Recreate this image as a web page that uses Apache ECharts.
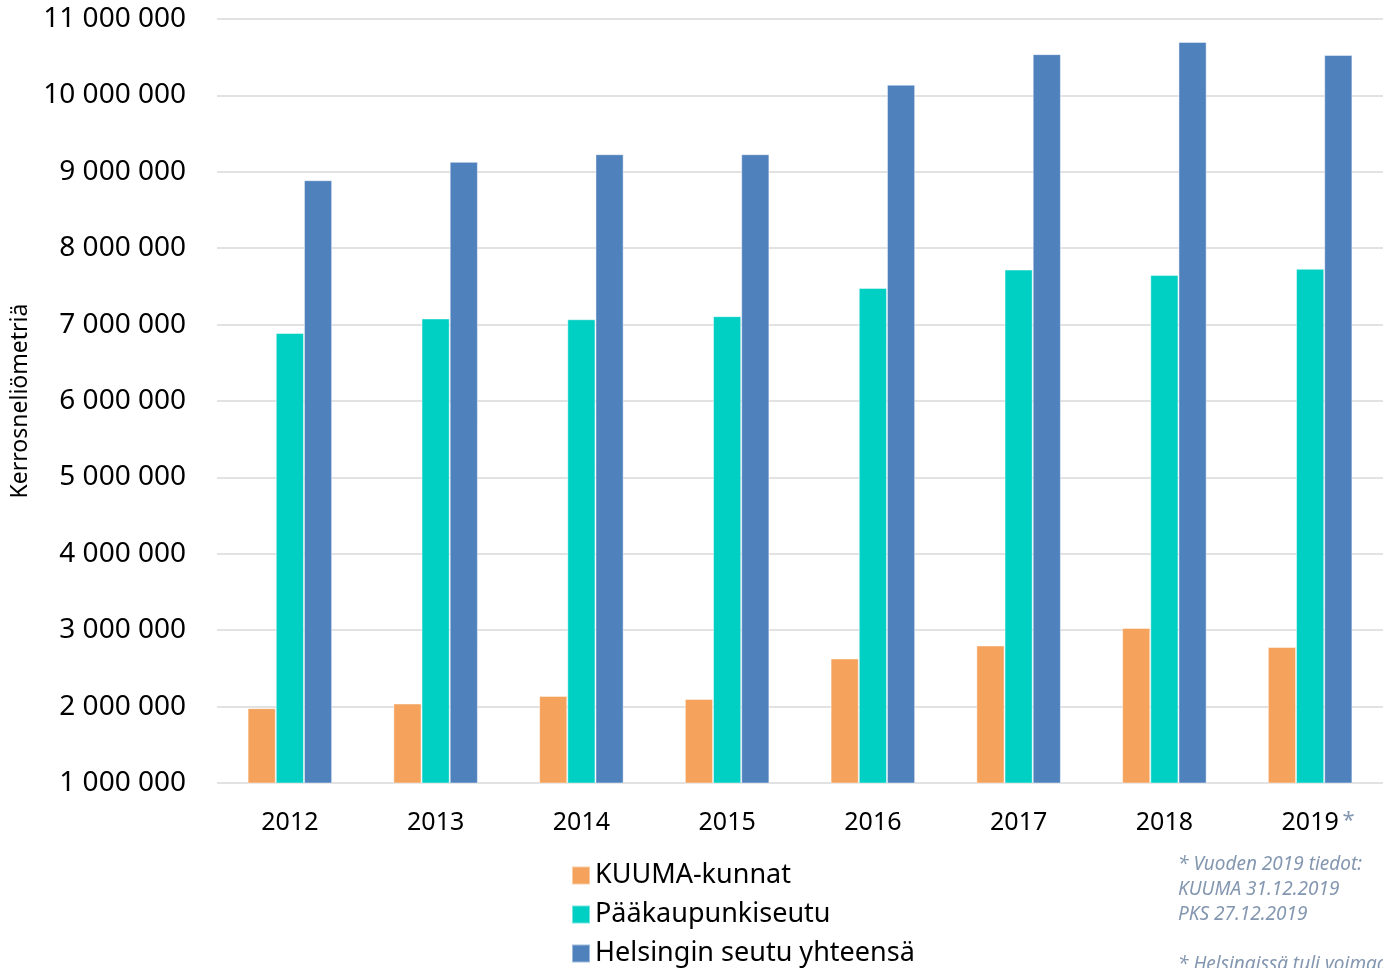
<!DOCTYPE html>
<html>
<head>
<meta charset="utf-8">
<script src="https://cdn.jsdelivr.net/npm/echarts@6/dist/echarts.min.js"></script>
<style>
  html, body { margin: 0; padding: 0; background: #fff; }
  #chart { width: 1383px; height: 968px; }
</style>
</head>
<body>
<div id="chart"></div>
<script>
// vuodet
const years = ['2012', '2013', '2014', '2015', '2016', '2017', '2018', '2019'];

// kerrosneliömetrit sarjoittain
const kuuma = [1980000, 2040000, 2140000, 2100000, 2630000, 2800000, 3030000, 2780000];
const pks = [6890000, 7080000, 7070000, 7110000, 7480000, 7720000, 7650000, 7730000];
const total = [8890000, 9130000, 9230000, 9230000, 10140000, 10540000, 10700000, 10530000];

const seriesNames = ['KUUMA-kunnat', 'Pääkaupunkiseutu', 'Helsingin seutu yhteensä'];
const colors = ['#F4A25C', '#00CFC4', '#4F81BD'];

const noteLines = [
  '* Vuoden 2019 tiedot:',
  'KUUMA 31.12.2019',
  'PKS 27.12.2019',
  '',
  '* Helsingissä tuli voimaan'
];

const font = '"Noto Sans", sans-serif';

// 1000000 -> "1 000 000"
function fmt(v) {
  return String(v).replace(/\B(?=(\d{3})+(?!\d))/g, ' ');
}

const chart = echarts.init(document.getElementById('chart'));

const option = {
  animation: false,
  textStyle: { fontFamily: font },
  grid: { left: 217, right: 0, top: 19, bottom: 185 },
  legend: {
    data: seriesNames,
    orient: 'vertical',
    left: 566,
    top: 856,
    height: 140,
    icon: 'rect',
    itemWidth: 18,
    itemHeight: 18,
    itemGap: 10,
    textStyle: { fontSize: 27, lineHeight: 29, color: '#000', fontFamily: font }
  },
  xAxis: {
    type: 'category',
    data: years,
    axisLine: { show: false },
    axisTick: { show: false },
    axisLabel: {
      interval: 0,
      fontSize: 25,
      color: '#000',
      margin: 27,
      formatter: (v) => v === '2019' ? '{p|}' + v + '{s|*}' : v,
      rich: {
        p: { width: 16 },
        s: { color: '#8497B0', fontSize: 22, width: 16, align: 'right', verticalAlign: 'top' }
      }
    }
  },
  yAxis: {
    type: 'value',
    min: 1000000,
    max: 11000000,
    interval: 1000000,
    name: 'Kerrosneliömetriä',
    nameLocation: 'middle',
    nameGap: 183,
    nameTextStyle: { fontSize: 23, color: '#000', fontFamily: font },
    axisLine: { show: false },
    axisTick: { show: false },
    axisLabel: {
      fontSize: 28,
      color: '#000',
      margin: 31,
      formatter: fmt
    },
    splitLine: { lineStyle: { color: '#D9D9D9', width: 1.5 } }
  },
  series: [kuuma, pks, total].map((d, i) => ({
    name: seriesNames[i],
    type: 'bar',
    data: d,
    barGap: '0%',
    barCategoryGap: '42%',
    itemStyle: {
      color: colors[i],
      borderColor: 'rgba(255,255,255,0.45)',
      borderWidth: 1
    }
  })),
  graphic: [
    {
      type: 'text',
      left: 1178,
      top: 852,
      style: {
        text: noteLines.join('\n'),
        fill: '#8497B0',
        font: 'italic 19px "Noto Sans", sans-serif',
        lineHeight: 25
      }
    }
  ]
};

chart.setOption(option);
</script>
</body>
</html>
